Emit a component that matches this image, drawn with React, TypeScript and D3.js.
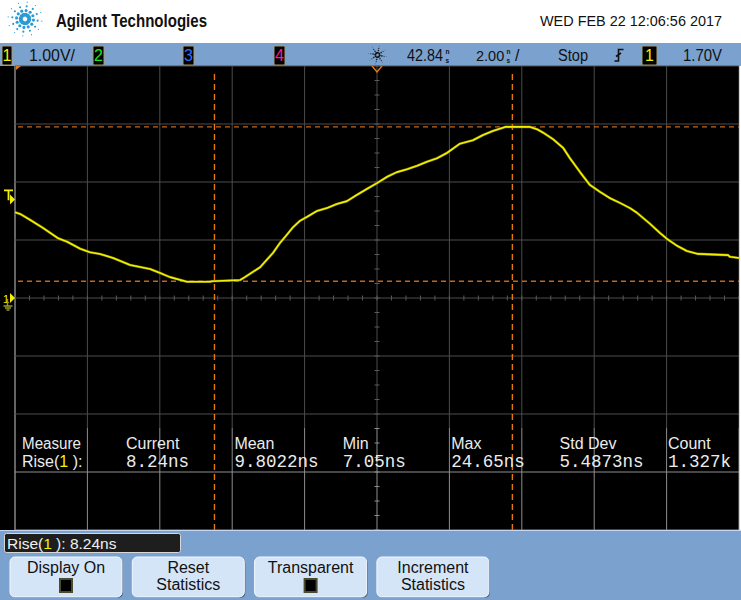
import React from "react";
import * as d3 from "d3";

// ---- data ----
const timeNs = [32.84, 32.98, 33.25, 33.61, 34.03, 34.28, 34.64, 34.91, 35.19, 35.55, 36.02, 36.57, 36.85, 37.12, 37.59, 38.23, 38.28, 39.06, 39.19, 39.61, 39.97, 40.16, 40.35, 40.52, 40.71, 40.91, 41.18, 41.46, 41.73, 42.01, 42.29, 42.56, 42.84, 43.12, 43.39, 43.67, 43.95, 44.22, 44.5, 44.77, 45.13, 45.49, 45.77, 46.04, 46.38, 47.07, 47.26, 47.43, 47.7, 47.98, 48.17, 48.45, 48.72, 49.0, 49.28, 49.55, 49.83, 50.02, 50.38, 50.66, 50.85, 51.13, 51.4, 51.71, 52.54, 52.59, 52.84];
const volts = [1.48, 1.45, 1.35, 1.21, 1.03, 0.97, 0.85, 0.79, 0.76, 0.69, 0.57, 0.5, 0.43, 0.36, 0.28, 0.28, 0.29, 0.31, 0.36, 0.53, 0.78, 0.95, 1.09, 1.22, 1.33, 1.4, 1.5, 1.55, 1.62, 1.67, 1.78, 1.88, 1.98, 2.09, 2.17, 2.22, 2.28, 2.35, 2.41, 2.5, 2.66, 2.72, 2.81, 2.88, 2.95, 2.95, 2.91, 2.85, 2.74, 2.59, 2.41, 2.17, 1.95, 1.83, 1.72, 1.64, 1.55, 1.47, 1.28, 1.12, 1.02, 0.9, 0.81, 0.76, 0.74, 0.71, 0.69];

const timeCenterNs = 42.84;
const timePerDiv = 2.0;
const voltsPerDiv = 1.0;
const triggerLevel = 1.7;
const cursorTimes = [38.35, 46.58];
const cursorVolts = [2.95, 0.29];

const statLabels = ["Current", "Mean", "Min", "Max", "Std Dev", "Count"];
const statValues = ["8.24ns", "9.8022ns", "7.05ns", "24.65ns", "5.4873ns", "1.327k"];
const softkeys = [
  { lines: ["Display On"], check: true },
  { lines: ["Reset", "Statistics"], check: false },
  { lines: ["Transparent"], check: true },
  { lines: ["Increment", "Statistics"], check: false },
];
const channelColors = ["#f2f200", "#1ee61e", "#2f6dff", "#ff1a8c"];

const SANS = "'Liberation Sans', Arial, sans-serif";
const MONO = "'Liberation Mono', 'DejaVu Sans Mono', monospace";

function Spark({ cx, cy, r, color, rays, big }: { cx: number; cy: number; r: number; color: string; rays: number; big: number }) {
  const dots: JSX.Element[] = [];
  for (let k = 0; k < rays; k++) {
    const a = (k / rays) * Math.PI * 2 + Math.PI / rays / 2;
    for (let j = 1; j <= 4; j++) {
      const rr = (r * j) / 4;
      const s = big * (1.15 - j * 0.22);
      dots.push(<circle key={k + "-" + j} cx={cx + rr * Math.cos(a)} cy={cy + rr * Math.sin(a)} r={Math.max(s, 0.35)} fill={color} />);
    }
  }
  return <g>{dots}</g>;
}

function ChBox({ x, w, n, color }: { x: number; w: number; n: string; color: string }) {
  return (
    <g>
      <rect x={x} y={46} width={w} height={19} fill="#000" stroke="#a89c6c" strokeWidth={1} rx={1} />
      <text x={x + w / 2} y={61} textAnchor="middle" fill={color} fontFamily={SANS} fontSize={16}>{n}</text>
    </g>
  );
}

function UnitStack({ x }: { x: number }) {
  return (
    <text fontFamily={SANS} fontSize={6.5} fontWeight="bold" fill="#111">
      <tspan x={x} y={54}>n</tspan>
      <tspan x={x} y={62.5}>s</tspan>
    </text>
  );
}

export default function App() {
  const left = 15, right = 739, top = 66, bottom = 530;
  const x = d3.scaleLinear().domain([timeCenterNs - 5 * timePerDiv, timeCenterNs + 5 * timePerDiv]).range([left, right]);
  const y = d3.scaleLinear().domain([-4 * voltsPerDiv, 4 * voltsPerDiv]).range([bottom, top]);
  const line = d3.line<number>().x((_, i) => x(timeNs[i])).y((d) => y(d)).curve(d3.curveLinear);

  const vGrid = d3.range(0, 11).map((i) => x.domain()[0] + i * timePerDiv);
  const hGrid = d3.range(-4, 5).map((v) => v * voltsPerDiv);
  const hMinor = d3.range(0, 51).map((i) => x.domain()[0] + i * timePerDiv / 5);
  const vMinor = d3.range(0, 33).map((i) => -4 + i * 0.25);
  const statTop = 428;

  return (
    <svg width={741} height={600} style={{ position: "absolute", left: 0, top: 0 }}>
      {/* header */}
      <rect x={0} y={0} width={741} height={43} fill="#fff" />
      <Spark cx={25} cy={19} r={17} color="#2a9bd6" rays={12} big={2.2} />
      <text x={56} y={27} fontFamily={SANS} fontWeight="bold" fontSize={18} textLength={151} lengthAdjust="spacingAndGlyphs" fill="#111">Agilent Technologies</text>
      <text x={540} y={26} fontFamily={SANS} fontSize={15} textLength={182} lengthAdjust="spacingAndGlyphs" fill="#111">WED FEB 22 12:06:56 2017</text>

      {/* status bar */}
      <rect x={0} y={43} width={741} height={23} fill="#7ba1cf" />
      <ChBox x={2} w={10} n="1" color={channelColors[0]} />
      <text x={29} y={61} fontFamily={SANS} fontSize={16} textLength={46} lengthAdjust="spacingAndGlyphs" fill="#111">1.00V/</text>
      <ChBox x={93} w={11} n="2" color={channelColors[1]} />
      <ChBox x={183} w={11} n="3" color={channelColors[2]} />
      <ChBox x={274} w={11} n="4" color={channelColors[3]} />
      <Spark cx={377.5} cy={55} r={9} color="#111" rays={8} big={1.1} />
      <text x={407} y={61} fontFamily={SANS} fontSize={16} textLength={36} lengthAdjust="spacingAndGlyphs" fill="#111">42.84</text>
      <UnitStack x={445.5} />
      <text x={476} y={61} fontFamily={SANS} fontSize={14.5} fill="#111">2.00</text>
      <UnitStack x={506.5} />
      <text x={515} y={61} fontFamily={SANS} fontSize={16} fill="#111">/</text>
      <text x={558} y={61} fontFamily={SANS} fontSize={16} textLength={30} lengthAdjust="spacingAndGlyphs" fill="#111">Stop</text>
      <path d="M614.5 61 H618.5 V49.5 H623.5 M616 56.5 L621 53" stroke="#111" strokeWidth={1.6} fill="none" />
      <ChBox x={642} w={15} n="1" color={channelColors[0]} />
      <text x={683} y={61} fontFamily={SANS} fontSize={16} textLength={39} lengthAdjust="spacingAndGlyphs" fill="#111">1.70V</text>

      {/* screen */}
      <rect x={0} y={top} width={right} height={bottom - top} fill="#000" />
      {vGrid.map((t, i) => (
        <g key={"vg" + i}>
          <line x1={x(t)} x2={x(t)} y1={top} y2={statTop} stroke={i === 0 ? "#c8c8c8" : "#4c4c4c"} strokeWidth={1} />
          <line x1={x(t)} x2={x(t)} y1={statTop} y2={bottom} stroke={i === 0 ? "#c8c8c8" : "#8e8e8e"} strokeWidth={1} />
        </g>
      ))}
      {hGrid.map((v, i) => (
        <line key={"hg" + i} x1={left} x2={right} y1={y(v)} y2={y(v)} stroke={y(v) > statTop ? "#8e8e8e" : "#4c4c4c"} strokeWidth={1} />
      ))}
      {hMinor.map((t, i) => (
        <line key={"hm" + i} x1={x(t)} x2={x(t)} y1={y(0) - 2.5} y2={y(0) + 2.5} stroke="#5a5a5a" strokeWidth={1} />
      ))}
      {vMinor.map((v, i) => (
        <line key={"vm" + i} x1={x(timeCenterNs) - 2.5} x2={x(timeCenterNs) + 2.5} y1={y(v)} y2={y(v)} stroke={y(v) > statTop ? "#8e8e8e" : "#5a5a5a"} strokeWidth={1} />
      ))}

      {/* cursors */}
      {cursorVolts.map((v, i) => (
        <line key={"cv" + i} x1={left + 3} x2={right} y1={y(v)} y2={y(v)} stroke="#c4651e" strokeWidth={1.4} strokeDasharray="5 4" />
      ))}
      {cursorTimes.map((t, i) => (
        <line key={"ct" + i} x1={x(t)} x2={x(t)} y1={top + 8} y2={bottom} stroke="#e67a12" strokeWidth={1.4} strokeDasharray="6 4" />
      ))}

      {/* trigger markers */}
      <path d={`M${x(timeCenterNs) - 5} ${top} L${x(timeCenterNs)} ${top + 6} L${x(timeCenterNs) + 5} ${top}`} stroke="#e67a12" strokeWidth={1.4} fill="none" />
      <path d={`M${left + 1} ${top} L${left + 6} ${top} L${left + 1} ${top + 4} Z`} fill="#e67a12" />

      {/* waveform */}
      <path d={line(volts) || ""} fill="none" stroke="#6e6e00" strokeWidth={2.6} strokeLinejoin="round" />
      <path d={line(volts) || ""} fill="none" stroke="#f2f000" strokeWidth={1.6} strokeLinejoin="round" />

      {/* left markers */}
      <g fill={channelColors[0]} stroke="none">
        <path d={`M4 ${y(triggerLevel) - 10} h9 v1.8 h-3.6 v9 h-1.8 v-9 h-3.6 Z`} />
        <path d={`M10 ${y(triggerLevel) - 5} L15 ${y(triggerLevel)} L10 ${y(triggerLevel) + 5} Z`} />
        <path d={`M10 ${y(0) - 5} L15 ${y(0)} L10 ${y(0) + 5} Z`} />
        <text x={3} y={y(0) + 5} fontFamily={SANS} fontSize={11}>1</text>
        <path d={`M7.5 ${y(0) + 1} v7 M3.5 ${y(0) + 8} h9 M5 ${y(0) + 10} h6 M6.5 ${y(0) + 12} h3`} stroke="#9b9b2a" strokeWidth={1.4} fill="none" />
      </g>

      {/* statistics */}
      <text x={22} y={449} fontFamily={SANS} fontSize={16} fill="#ececec" textLength={59} lengthAdjust="spacingAndGlyphs">Measure</text>
      <text x={22} y={467} fontFamily={SANS} fontSize={16} fill="#ececec">
        Rise(<tspan fill={channelColors[0]}>1</tspan> ):
      </text>
      {statLabels.map((s, i) => (
        <text key={"sl" + i} x={126 + i * 108.4} y={449} fontFamily={SANS} fontSize={16} fill="#ececec">{s}</text>
      ))}
      {statValues.map((s, i) => (
        <text key={"sv" + i} x={126 + i * 108.4} y={467} fontFamily={MONO} fontSize={17.5} fill="#ececec">{s}</text>
      ))}

      {/* bottom panel */}
      <rect x={0} y={bottom} width={741} height={600 - bottom} fill="#7ba1cf" />
      <line x1={0} x2={741} y1={bottom + 0.5} y2={bottom + 0.5} stroke="#c5d6ee" strokeWidth={1} />
      <line x1={right + 0.5} x2={right + 0.5} y1={top} y2={bottom} stroke="#c5d6ee" strokeWidth={1} />
      <rect x={4.5} y={533.5} width={176} height={19} fill="#1e1e1e" stroke="#d8d8d8" strokeWidth={1} rx={2} />
      <text x={7} y={549} fontFamily={SANS} fontSize={15.5} fill="#f0f0f0">
        Rise(<tspan fill={channelColors[0]}>1</tspan> ): 8.24ns
      </text>
      {softkeys.map((k, i) => {
        const bx = 10 + i * 122.3;
        const cx = bx + 56;
        return (
          <g key={"sk" + i}>
            <rect x={bx + 1} y={558} width={112} height={40} rx={5} fill="#4a5f7a" />
            <rect x={bx} y={557} width={112} height={40} rx={5} fill="#d5e5f8" stroke="#f2f8ff" strokeWidth={1} />
            {k.lines.map((l, j) => (
              <text key={j} x={cx} y={k.lines.length === 2 ? 573 + j * 17 : 573} textAnchor="middle" fontFamily={SANS} fontSize={16} fill="#111">{l}</text>
            ))}
            {k.check && (
              <g>
                <rect x={cx - 7} y={578} width={14} height={15} fill="#4b4b2e" />
                <rect x={cx - 5} y={580} width={10} height={11} fill="#000" />
              </g>
            )}
          </g>
        );
      })}
    </svg>
  );
}
